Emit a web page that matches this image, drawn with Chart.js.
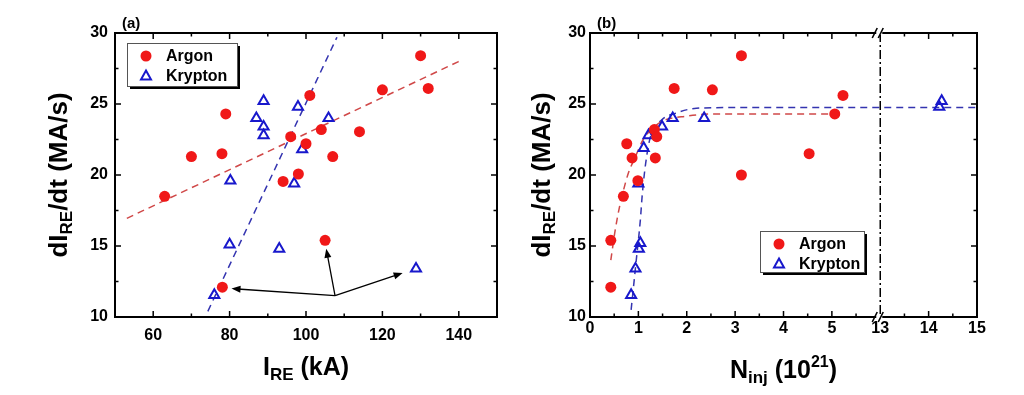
<!DOCTYPE html>
<html>
<head>
<meta charset="utf-8">
<script src="https://cdn.jsdelivr.net/npm/chart.js@4.4.1/dist/chart.umd.min.js"></script>
<style>
html, body { margin: 0; padding: 0; background: #fff; }
#wrap { position: relative; width: 1024px; height: 395px; }
canvas { position: absolute; top: 0; }
</style>
</head>
<body>
<div id="wrap">
	<canvas id="chartA" width="512" height="395" style="left:0"></canvas>
	<canvas id="chartB" width="512" height="395" style="left:512px"></canvas>
</div>
<script>
'use strict'

// panel (a): dI/dt vs I_RE
const argonI = [63, 70, 78, 79, 78.1, 94, 96, 98, 100, 101, 104, 105, 107, 114, 120, 130, 132]
const argonRateA = [18.5, 21.3, 21.5, 24.3, 12.1, 19.55, 22.7, 20.07, 22.2, 25.6, 23.2, 15.4, 21.3, 23.05, 26.0, 28.4, 26.1]
const kryptonI = [76, 80, 80.2, 87, 88.9, 88.9, 88.9, 93, 96.9, 97.9, 99, 105.9, 128.8]
const kryptonRateA = [11.55, 15.1, 19.6, 24.0, 25.2, 23.4, 22.8, 14.8, 19.4, 24.8, 21.8, 24.0, 13.4]
const argonFitI = [53.1, 140.8]
const argonFitRateA = [16.95, 28.1]
const kryptonFitI = [74.3, 108.1]
const kryptonFitRateA = [10.4, 29.7]
// arrows pointing at the three marked shots
const arrowFromI = 107.6
const arrowFromRate = 11.5
const arrowToI = [80.5, 105.3, 125.3]
const arrowToRate = [12.0, 14.8, 13.1]

// panel (b): dI/dt vs N_inj (10^21), axis broken between 5 and 13
const argonN = [0.43, 0.43, 0.69, 0.76, 0.87, 1.35, 1.33, 1.38, 0.99, 1.74, 2.53, 3.13, 3.13, 4.53, 5.06, 5.23]
const argonRateB = [12.1, 15.4, 18.5, 22.2, 21.2, 21.2, 23.2, 22.7, 19.6, 26.1, 26.0, 28.4, 20.0, 21.5, 24.3, 25.6]
const kryptonN = [0.85, 0.94, 1.01, 1.04, 1.0, 1.11, 1.21, 1.49, 1.71, 2.36, 14.22, 14.27]
const kryptonRateB = [11.55, 13.4, 14.8, 15.2, 19.4, 21.9, 22.8, 23.4, 24.0, 24.0, 24.8, 25.2]
const argonFitN = [0.43, 0.52, 0.625, 0.69, 0.79, 0.94, 1.1, 1.3, 1.5, 2.0, 2.6, 5.0]
const argonFitRateB = [14.0, 16.1, 18.0, 18.9, 20.1, 21.3, 22.5, 23.3, 23.8, 24.15, 24.3, 24.3]
const kryptonFitN = [0.85, 0.95, 1.04, 1.08, 1.15, 1.25, 1.49, 1.77, 2.2, 3, 15]
const kryptonFitRateB = [10.5, 13.8, 16.8, 18.6, 20.8, 22.7, 23.9, 24.35, 24.7, 24.75, 24.75]

const rateTicks = [10, 15, 20, 25, 30]
const currentTicks = [60, 80, 100, 120, 140]
const nTicks = [0, 1, 2, 3, 4, 5, 13, 14, 15]

const RED = '#f01818'
const BLUE = '#1818cc'
const RED_FIT = '#d04848'
const BLUE_FIT = '#3434b0'
const FONT = "Arial, 'Liberation Sans', sans-serif"

// the gap 5..13 is squeezed into one unit
const brk = (n) => n > 9 ? n - 7 : n
const unbrk = (v) => v > 5 ? v + 7 : v

function pts(xs, ys, f) {
	return xs.map((x, i) => ({ x: f ? f(x) : x, y: ys[i] }))
}

function markerSets(ax, ay, kx, ky, f) {
	return [
		{
			label: 'Argon', data: pts(ax, ay, f), order: 0,
			pointStyle: 'circle', pointRadius: 5.5, pointBackgroundColor: RED, pointBorderWidth: 0,
		},
		{
			label: 'Krypton', data: pts(kx, ky, f), order: 0,
			pointStyle: 'triangle', pointRadius: 5.8, pointBackgroundColor: 'rgba(255,255,255,0)',
			pointBorderColor: BLUE, pointBorderWidth: 2,
		},
	]
}

function fitSet(xs, ys, color, f) {
	return {
		label: '', data: pts(xs, ys, f), order: 1, showLine: true, pointRadius: 0,
		borderColor: color, borderWidth: 1.5, borderDash: [7, 5], cubicInterpolationMode: 'monotone',
	}
}

function drawRuns(ctx, runs, cx, cy, vertical) {
	ctx.save()
	ctx.translate(cx, cy)
	if (vertical) ctx.rotate(-Math.PI / 2)
	let total = 0
	runs.forEach(r => { ctx.font = 'bold ' + r[1] + 'px ' + FONT; r.w = ctx.measureText(r[0]).width; total += r.w })
	let x = -total / 2
	ctx.fillStyle = '#000'
	ctx.textBaseline = 'alphabetic'
	runs.forEach(r => {
		ctx.font = 'bold ' + r[1] + 'px ' + FONT
		ctx.fillText(r[0], x, 9 + (r[2] || 0))
		x += r.w
	})
	ctx.restore()
}

const frameTicks = {
	id: 'frameTicks',
	afterDatasetsDraw(chart, args, opts) {
		const ctx = chart.ctx
		const a = chart.chartArea
		const sx = chart.scales.x
		const sy = chart.scales.y
		ctx.save()
		ctx.strokeStyle = '#000'
		ctx.lineWidth = 1.5
		ctx.beginPath()
		const xs = sx.ticks.map(t => t.value)
		const ys = sy.ticks.map(t => t.value)
		const mark = (vals, len, fn) => vals.forEach(v => fn(v, len))
		const xMark = (v, len) => {
			if (opts.skipX && opts.skipX.includes(v)) return
			const p = sx.getPixelForValue(v)
			ctx.moveTo(p, a.bottom); ctx.lineTo(p, a.bottom - len)
			ctx.moveTo(p, a.top); ctx.lineTo(p, a.top + len)
		}
		const yMark = (v, len) => {
			const p = sy.getPixelForValue(v)
			ctx.moveTo(a.left, p); ctx.lineTo(a.left + len, p)
			ctx.moveTo(a.right, p); ctx.lineTo(a.right - len, p)
		}
		const mids = (vals) => vals.slice(1).map((v, i) => (v + vals[i]) / 2)
		mark(xs, 6, xMark); mark(mids(xs), 3.5, xMark)
		mark(ys, 6, yMark); mark(mids(ys), 3.5, yMark)
		ctx.stroke()
		ctx.lineWidth = 2
		ctx.strokeRect(a.left, a.top, a.right - a.left, a.bottom - a.top)
		ctx.restore()
	},
	afterDraw(chart, args, opts) {
		const ctx = chart.ctx
		const a = chart.chartArea
		// panel tag
		ctx.save()
		ctx.fillStyle = '#000'
		ctx.font = 'bold 15px ' + FONT
		ctx.fillText(opts.tag, a.left + 7, 28)
		ctx.restore()
		drawRuns(ctx, opts.yTitle, opts.yTitleX, (a.top + a.bottom) / 2, true)
		drawRuns(ctx, opts.xTitle, (a.left + a.right) / 2, opts.xTitleY, false)
		// legend with shadow
		const b = opts.legendBox
		ctx.save()
		ctx.fillStyle = '#000'
		ctx.fillRect(b.x + 3, b.y + 3, b.w, b.h)
		ctx.fillStyle = '#fff'
		ctx.fillRect(b.x, b.y, b.w, b.h)
		ctx.strokeStyle = '#555'
		ctx.lineWidth = 1
		ctx.strokeRect(b.x + 0.5, b.y + 0.5, b.w, b.h)
		const rows = chart.data.datasets.filter(d => d.label)
		rows.forEach((d, i) => {
			const my = b.y + 13 + i * 20
			const mx = b.x + 19
			if (d.pointStyle === 'circle') {
				ctx.fillStyle = RED
				ctx.beginPath(); ctx.arc(mx, my, 5.5, 0, Math.PI * 2); ctx.fill()
			} else {
				ctx.strokeStyle = BLUE
				ctx.lineWidth = 2
				ctx.beginPath()
				ctx.moveTo(mx, my - 5.5); ctx.lineTo(mx + 5, my + 3.5); ctx.lineTo(mx - 5, my + 3.5); ctx.closePath()
				ctx.stroke()
			}
			ctx.fillStyle = '#000'
			ctx.font = 'bold 16px ' + FONT
			ctx.textBaseline = 'middle'
			ctx.fillText(d.label, b.x + 39, my + 1)
		})
		ctx.restore()
	},
}

const arrows = {
	id: 'arrows',
	afterDatasetsDraw(chart) {
		const ctx = chart.ctx
		const sx = chart.scales.x
		const sy = chart.scales.y
		const x0 = sx.getPixelForValue(arrowFromI)
		const y0 = sy.getPixelForValue(arrowFromRate)
		ctx.save()
		ctx.strokeStyle = '#000'
		ctx.fillStyle = '#000'
		ctx.lineWidth = 1.3
		arrowToI.forEach((v, i) => {
			const x1 = sx.getPixelForValue(v)
			const y1 = sy.getPixelForValue(arrowToRate[i])
			const ang = Math.atan2(y1 - y0, x1 - x0)
			ctx.beginPath(); ctx.moveTo(x0, y0); ctx.lineTo(x1 - 6 * Math.cos(ang), y1 - 6 * Math.sin(ang)); ctx.stroke()
			ctx.beginPath()
			ctx.moveTo(x1, y1)
			ctx.lineTo(x1 - 9 * Math.cos(ang) + 3.5 * Math.sin(ang), y1 - 9 * Math.sin(ang) - 3.5 * Math.cos(ang))
			ctx.lineTo(x1 - 9 * Math.cos(ang) - 3.5 * Math.sin(ang), y1 - 9 * Math.sin(ang) + 3.5 * Math.cos(ang))
			ctx.closePath(); ctx.fill()
		})
		ctx.restore()
	},
}

const axisBreak = {
	id: 'axisBreak',
	afterDatasetsDraw(chart) {
		const ctx = chart.ctx
		const a = chart.chartArea
		const p = chart.scales.x.getPixelForValue(brk(13))
		ctx.save()
		ctx.strokeStyle = '#000'
		ctx.lineWidth = 1.5
		ctx.setLineDash([9, 3, 2, 3])
		ctx.beginPath(); ctx.moveTo(p, a.top); ctx.lineTo(p, a.bottom); ctx.stroke()
		ctx.restore()
	},
	afterDraw(chart) {
		const ctx = chart.ctx
		const a = chart.chartArea
		const p = chart.scales.x.getPixelForValue(brk(13))
		ctx.save()
		;[a.top, a.bottom].forEach(y => {
			ctx.fillStyle = '#fff'
			ctx.fillRect(p - 4, y - 2, 6, 4)
			ctx.strokeStyle = '#000'
			ctx.lineWidth = 1.6
			ctx.beginPath()
			ctx.moveTo(p - 8, y + 5); ctx.lineTo(p - 3, y - 5)
			ctx.moveTo(p - 2, y + 5); ctx.lineTo(p + 3, y - 5)
			ctx.stroke()
		})
		ctx.restore()
	},
}

function scaleOpts(min, max, ticks, width, height, pad, fmt) {
	return {
		type: 'linear', min: min, max: max,
		grid: { display: false, drawTicks: false },
		border: { display: false },
		afterBuildTicks: (s) => { s.ticks = ticks.map(v => ({ value: v })) },
		afterFit: (s) => { if (width) s.width = width; if (height) s.height = height },
		ticks: {
			autoSkip: false, maxRotation: 0, padding: pad, color: '#000',
			font: { family: FONT, size: 16, weight: 'bold' },
			callback: fmt || ((v) => v),
		},
	}
}

const rateTitle = [['dI', 26], ['RE', 17, 5], ['/dt (MA/s)', 26]]

new Chart(document.getElementById('chartA'), {
	type: 'scatter',
	data: {
		datasets: [
			...markerSets(argonI, argonRateA, kryptonI, kryptonRateA),
			fitSet(argonFitI, argonFitRateA, RED_FIT),
			fitSet(kryptonFitI, kryptonFitRateA, BLUE_FIT),
		],
	},
	options: {
		responsive: false, animation: false, devicePixelRatio: 1,
		layout: { padding: { top: 33, right: 15, left: 0, bottom: 0 } },
		plugins: {
			legend: { display: false }, tooltip: { enabled: false },
			frameTicks: {
				tag: '(a)', yTitle: rateTitle, yTitleX: 58,
				xTitle: [['I', 25], ['RE', 17, 5], [' (kA)', 25]], xTitleY: 366,
				legendBox: { x: 127, y: 43, w: 110, h: 43 },
			},
		},
		scales: {
			x: scaleOpts(50, 150, currentTicks, 0, 78, 9),
			y: scaleOpts(10, 30, rateTicks, 115, 0, 7),
		},
	},
	plugins: [frameTicks, arrows],
})

new Chart(document.getElementById('chartB'), {
	type: 'scatter',
	data: {
		datasets: [
			...markerSets(argonN, argonRateB, kryptonN, kryptonRateB, brk),
			fitSet(argonFitN, argonFitRateB, RED_FIT, brk),
			fitSet(kryptonFitN, kryptonFitRateB, BLUE_FIT, brk),
		],
	},
	options: {
		responsive: false, animation: false, devicePixelRatio: 1,
		layout: { padding: { top: 33, right: 47, left: 0, bottom: 0 } },
		plugins: {
			legend: { display: false }, tooltip: { enabled: false },
			frameTicks: {
				tag: '(b)', yTitle: rateTitle, yTitleX: 29, skipX: [6],
				xTitle: [['N', 25], ['inj', 17, 5], [' (10', 25], ['21', 16, -11], [')', 25]], xTitleY: 369,
				legendBox: { x: 248, y: 231, w: 104, h: 41 },
			},
		},
		scales: {
			x: scaleOpts(0, 8, nTicks.map(brk), 0, 78, 2, (v) => unbrk(v)),
			y: scaleOpts(10, 30, rateTicks, 78, 0, 4),
		},
	},
	plugins: [frameTicks, axisBreak],
})
</script>
</body>
</html>
